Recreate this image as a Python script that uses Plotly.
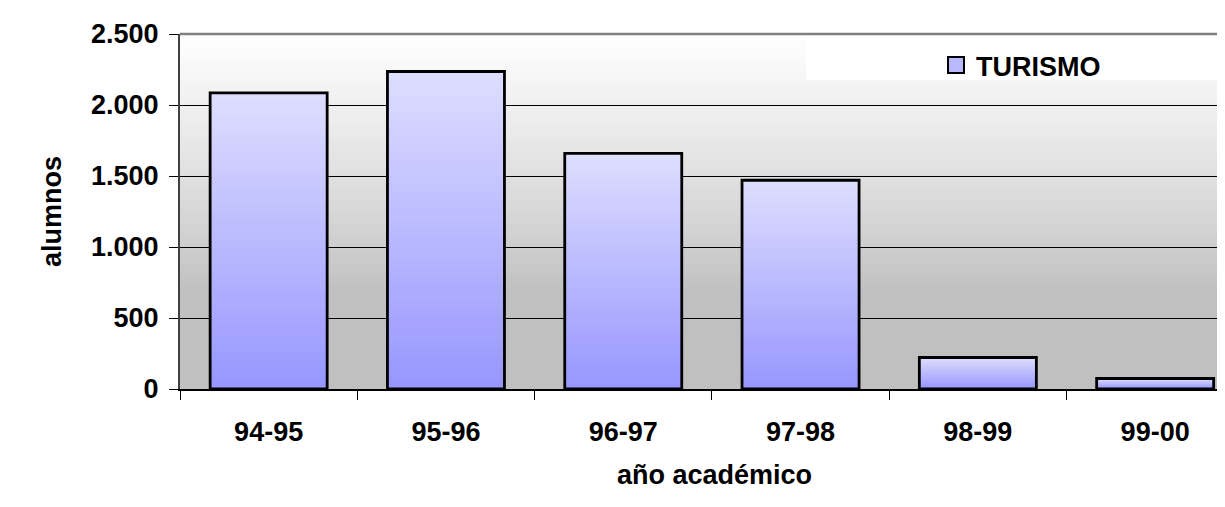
import plotly.graph_objects as go

categories = ["94-95", "95-96", "96-97", "97-98", "98-99", "99-00"]
turismo = [2085, 2236, 1660, 1470, 222, 74]
series_name = "TURISMO"
y_ticks = [0, 500, 1000, 1500, 2000, 2500]

FONT = "Liberation Sans, Arial, sans-serif"
TOP_RGB = (222, 222, 255)
BOT_RGB = (150, 150, 255)
N_LAYERS = 40
BAR_W = 0.66

def lerp(a, b, t):
    return tuple(int(round(a[i] + (b[i] - a[i]) * t)) for i in range(3))

fig = go.Figure()

# gradient bars: overlaid layers, lighter at the top of each bar
for k in range(N_LAYERS):
    frac = (N_LAYERS - k) / N_LAYERS
    t = (N_LAYERS - k - 0.5) / N_LAYERS
    c = lerp(BOT_RGB, TOP_RGB, t)
    fig.add_trace(go.Bar(
        x=categories, y=[v * frac for v in turismo], width=BAR_W,
        marker=dict(color="rgb(%d,%d,%d)" % c, line=dict(width=0)),
        showlegend=False, hoverinfo="skip",
    ))
# outline
fig.add_trace(go.Bar(
    x=categories, y=turismo, width=BAR_W, name=series_name,
    marker=dict(color="rgba(0,0,0,0)", line=dict(color="black", width=2.8)),
    showlegend=False,
))
# legend entry
fig.add_trace(go.Scatter(
    x=[None], y=[None], mode="markers", name=series_name,
    marker=dict(symbol="square", size=18, color="rgb(184,184,255)",
                line=dict(color="black", width=2)),
    showlegend=True,
))

# page offset (body margin 8px) -> layout sized so the plot lands where the reference has it
W, H = 1209, 491
ML, MT, PW, PH = 172, 26, 1037, 355
CAT_PX = 177.3  # pixels per category in the reference

def px_x(px):
    return (px - 8 - ML) / PW

def px_y(py):
    return (MT + PH - (py - 8)) / PH

x_end = -0.5 + PW / CAT_PX

shapes = []
NB = 60
for i in range(NB):
    y0 = i / NB
    y1 = (i + 1) / NB
    tm = (y0 + y1) / 2
    g = 192 + 63 * min(max((tm - 0.28) / 0.72, 0), 1) ** 0.85
    g = int(round(g))
    shapes.append(dict(type="rect", xref="x domain", yref="y domain",
                       x0=0, x1=1, y0=y0, y1=y1 + 0.002, layer="below",
                       line=dict(width=0), fillcolor="rgb(%d,%d,%d)" % (g, g, g)))
shapes.append(dict(type="rect", xref="paper", yref="paper",
                   x0=px_x(806), x1=1.0, y0=px_y(80), y1=px_y(36), layer="below",
                   line=dict(width=0), fillcolor="white"))
shapes.append(dict(type="line", xref="x domain", yref="y domain",
                   x0=0, x1=1, y0=1, y1=1, line=dict(color="#808080", width=2.5)))

fig.update_layout(
    width=W, height=H,
    margin=dict(l=ML, r=W - ML - PW, t=MT, b=H - MT - PH, pad=0),
    paper_bgcolor="white", plot_bgcolor="white",
    barmode="overlay", bargap=0.34,
    separators=",.",
    font=dict(family=FONT, size=27, color="black"),
    showlegend=True,
    legend=dict(x=px_x(936), y=px_y(41), xanchor="left", yanchor="top",
                bgcolor="rgba(0,0,0,0)", font=dict(family=FONT, size=27, color="black", weight="bold"),
                itemsizing="trace"),
    shapes=shapes,
    annotations=[
        dict(text="<b>alumnos</b>", xref="paper", yref="paper",
             x=px_x(52), y=px_y(212), textangle=-90,
             showarrow=False, font=dict(family=FONT, size=27, color="black"),
             bgcolor="white", xanchor="center", yanchor="middle"),
        dict(text="<b>año académico</b>", xref="paper", yref="paper",
             x=px_x(714), y=px_y(475),
             showarrow=False, font=dict(family=FONT, size=27, color="black"),
             bgcolor="white", xanchor="center", yanchor="middle"),
    ],
)
fig.update_xaxes(
    type="category", range=[-0.5, x_end],
    showgrid=False, zeroline=False,
    showline=True, linecolor="black", linewidth=1.5,
    ticks="outside", tickson="boundaries", ticklen=9, tickcolor="black", tickwidth=1,
    tickfont=dict(family=FONT, size=27, color="black", weight="bold"),
    ticklabelstandoff=18,
)
fig.update_yaxes(
    range=[0, 2500], tickvals=y_ticks, tickformat=",d",
    showgrid=True, gridcolor="black", gridwidth=1,
    zeroline=False,
    showline=True, linecolor="#404040", linewidth=2,
    ticks="outside", ticklen=9, tickcolor="black", tickwidth=1,
    tickfont=dict(family=FONT, size=27, color="black", weight="bold"),
    ticklabelstandoff=5,
)

fig.write_html("out.html")
